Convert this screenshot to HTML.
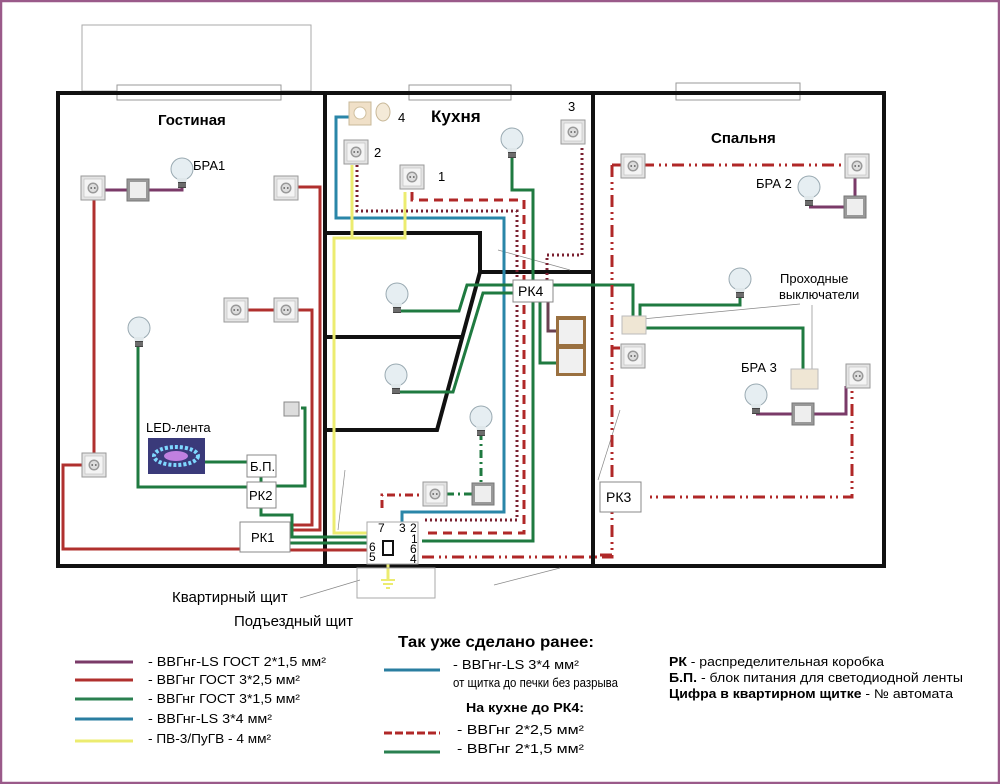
<!DOCTYPE html>
<html><head><meta charset="utf-8"><style>
html,body{margin:0;padding:0;background:#fff}
svg{display:block}
text{font-family:"Liberation Sans",sans-serif}
</style></head><body>
<svg width="1000" height="784" viewBox="0 0 1000 784" xmlns="http://www.w3.org/2000/svg">
<defs>
<g id="sock"><rect x="-12" y="-12" width="24" height="24" fill="#e4e4e4" stroke="#999" stroke-width="1"/><rect x="-9" y="-9" width="18" height="18" fill="#f4f4f4" stroke="#bbb" stroke-width="0.6"/><circle r="5.5" fill="#999"/><circle r="4" fill="#ddd"/><circle cx="-1.8" cy="0" r="0.9" fill="#555"/><circle cx="1.8" cy="0" r="0.9" fill="#555"/></g>
<g id="sw"><rect x="-11" y="-11" width="22" height="22" fill="#999" stroke="#777"/><rect x="-8" y="-8" width="16" height="16" fill="#eee"/></g>
<g id="bulb"><circle cx="0" cy="-19" r="11" fill="#e6eef2" stroke="#9aaab2" stroke-width="1"/><path d="M-5,-10 L-4,-5 L4,-5 L5,-10Z" fill="#dfe7ea"/><rect x="-4" y="-6" width="8" height="6" fill="#444"/><line x1="-4" y1="-4" x2="4" y2="-4" stroke="#aaa" stroke-width="0.8"/><line x1="-4" y1="-2" x2="4" y2="-2" stroke="#aaa" stroke-width="0.8"/></g>
</defs>
<rect x="1" y="1" width="998" height="782" fill="#fff" stroke="#9a5a8a" stroke-width="2.5"/>
<rect x="82" y="25" width="229" height="66" fill="none" stroke="#aaa"/>
<rect x="117" y="85" width="164" height="15" fill="#fff" stroke="#999"/>
<rect x="409" y="85" width="102" height="15" fill="#fff" stroke="#999"/>
<rect x="676" y="83" width="124" height="17" fill="#fff" stroke="#999"/>
<rect x="58" y="93" width="826" height="473" fill="none" stroke="#111" stroke-width="4"/>
<line x1="325" y1="93" x2="325" y2="566" stroke="#111" stroke-width="4"/>
<line x1="593" y1="93" x2="593" y2="566" stroke="#111" stroke-width="4"/>
<polyline points="325,233 480,233 480,272 593,272" fill="none" stroke="#111" stroke-width="4"/>
<polyline points="480,272 437,430 325,430" fill="none" stroke="#111" stroke-width="4"/>
<line x1="325" y1="337" x2="462" y2="337" stroke="#111" stroke-width="4"/>
<g stroke="#888" stroke-width="0.7" fill="none">
<line x1="498" y1="250" x2="570" y2="270"/><line x1="345" y1="470" x2="338" y2="530"/>
<line x1="620" y1="410" x2="598" y2="480"/><line x1="642" y1="319" x2="800" y2="304"/><line x1="812" y1="305" x2="812" y2="372"/>
<line x1="300" y1="598" x2="360" y2="580"/><line x1="494" y1="585" x2="560" y2="568"/>
</g>
<g fill="none" stroke-width="3">
<polyline points="104,190 127,190" stroke="#7a3a68"/><polyline points="149,190 182,190 182,186" stroke="#7a3a68"/>
<polyline points="94,200 94,455" stroke="#b0302e"/>
<polyline points="82,465 63,465 63,549 240,549" stroke="#b0302e"/>
<polyline points="298,187 320,187 320,530 290,530" stroke="#b0302e"/>
<polyline points="248,310 274,310" stroke="#b0302e"/>
<polyline points="298,310 312,310 312,525 290,525" stroke="#b0302e"/>
<polyline points="290,550 370,550" stroke="#b0302e"/>
<polyline points="290,543 370,543" stroke="#1f7a40"/>
<polyline points="138,346 138,487 247,487" stroke="#1f7a40"/>
<polyline points="205,462 247,462" stroke="#1f7a40"/>
<polyline points="261,477 261,482" stroke="#1f7a40"/>
<polyline points="301,408 305,408 305,486 276,486" stroke="#1f7a40"/>
<polyline points="261,508 261,515 292,515 292,537 370,537" stroke="#1f7a40"/>
</g>
<use href="#sock" x="93" y="188"/><use href="#sw" x="138" y="190"/><use href="#bulb" x="182" y="188"/>
<use href="#sock" x="286" y="188"/><use href="#sock" x="236" y="310"/><use href="#sock" x="286" y="310"/>
<use href="#bulb" x="139" y="347"/><use href="#sock" x="94" y="465"/>
<rect x="284" y="402" width="15" height="14" fill="#ddd" stroke="#888"/>
<rect x="148" y="438" width="57" height="36" fill="#3a3a7a"/><ellipse cx="176" cy="456" rx="22" ry="9" fill="none" stroke="#7fd8ff" stroke-width="4" stroke-dasharray="3 2"/><ellipse cx="176" cy="456" rx="12" ry="5" fill="#c080e0"/>
<rect x="247" y="455" width="29" height="22" fill="#fff" stroke="#888"/><text x="250" y="471" font-size="13">Б.П.</text>
<rect x="247" y="482" width="29" height="26" fill="#fff" stroke="#888"/><text x="249" y="500" font-size="13">РК2</text>
<rect x="240" y="522" width="50" height="30" fill="#fff" stroke="#888"/><text x="251" y="542" font-size="13">РК1</text>
<text x="158" y="125" font-size="15" font-weight="bold">Гостиная</text>
<text x="193" y="170" font-size="13">БРА1</text>
<text x="146" y="432" font-size="13">LED-лента</text>
<g fill="none" stroke-width="3">
<polyline points="349,117 336,117 336,218 504,218 504,512 402,512 402,522" stroke="#2a86a8"/>
<polyline points="352,165 352,238 334,238 334,533 380,533 380,545" stroke="#ecec70"/>
<polyline points="405,192 405,238 350,238" stroke="#ecec70"/>
<polyline points="388,555 388,580" stroke="#ecec70"/>
<polyline points="357,165 357,211 517,211 517,520 422,520" stroke="#7a2030" stroke-dasharray="2 3"/>
<polyline points="582,148 582,255 547,255 547,280" stroke="#7a2030" stroke-dasharray="2 3"/>
<polyline points="412,192 412,200 524,200 524,533 422,533" stroke="#b02828" stroke-dasharray="9 6"/>
<polyline points="422,557 612,557 612,165 625,165" stroke="#b02828" stroke-dasharray="12 5 2 4 2 5"/>
<polyline points="382,508 382,495 425,495" stroke="#b02828" stroke-dasharray="8 4 2 4"/>
<polyline points="446,494 472,494" stroke="#1f7a40" stroke-dasharray="8 4 2 4"/>
<polyline points="481,432 481,485" stroke="#1f7a40" stroke-dasharray="8 4 2 4"/>
<polyline points="512,147 512,190 533,190 533,280" stroke="#1f7a40"/>
<polyline points="398,311 459,311 467,285 513,285" stroke="#1f7a40"/>
<polyline points="396,392 453,392 483,293 513,293" stroke="#1f7a40"/>
<polyline points="533,302 533,541 422,541" stroke="#1f7a40"/>
<polyline points="553,285 633,285 633,318" stroke="#1f7a40"/>
<polyline points="540,302 540,363 556,363" stroke="#1f7a40"/>
<polyline points="548,302 548,331 556,331" stroke="#6a4050"/>
</g>
<rect x="349" y="102" width="22" height="23" fill="#f0e0c8" stroke="#c8b898"/><circle cx="360" cy="113" r="6" fill="#fff" stroke="#d0c0a0"/>
<ellipse cx="383" cy="112" rx="7" ry="9" fill="#f4ead8" stroke="#c8b898"/>
<text x="398" y="122" font-size="13">4</text>
<use href="#sock" x="356" y="152"/><text x="374" y="157" font-size="13">2</text>
<use href="#sock" x="412" y="177"/><text x="438" y="181" font-size="13">1</text>
<use href="#sock" x="573" y="132"/><text x="568" y="111" font-size="13">3</text>
<use href="#bulb" x="512" y="158"/>
<text x="431" y="122" font-size="17" font-weight="bold">Кухня</text>
<use href="#bulb" x="397" y="313"/><use href="#bulb" x="396" y="394"/><use href="#bulb" x="481" y="436"/>
<use href="#sock" x="435" y="494"/><use href="#sw" x="483" y="494"/>
<rect x="513" y="280" width="40" height="22" fill="#fff" stroke="#888"/><text x="518" y="296" font-size="14">РК4</text>
<rect x="556" y="316" width="30" height="60" fill="#9a7040"/><rect x="559" y="320" width="24" height="24" fill="#f0f0f0"/><rect x="559" y="349" width="24" height="24" fill="#f0f0f0"/>
<rect x="367" y="522" width="51" height="42" fill="#fff" stroke="#aaa"/>
<rect x="383" y="541" width="10" height="14" fill="#fff" stroke="#111" stroke-width="2"/>
<g font-size="12"><text x="378" y="532">7</text><text x="399" y="532">3</text><text x="410" y="532">2</text><text x="411" y="543">1</text><text x="410" y="553">6</text><text x="410" y="563">4</text><text x="369" y="551">6</text><text x="369" y="561">5</text></g>
<rect x="357" y="568" width="78" height="30" fill="none" stroke="#aaa"/>
<path d="M381,580 L395,580 M383,584 L393,584 M386,588 L390,588" stroke="#ecec70" stroke-width="2"/>
<text x="172" y="602" font-size="15">Квартирный щит</text>
<text x="234" y="626" font-size="15">Подъездный щит</text>
<g fill="none" stroke-width="3">
<polyline points="612,165 850,165" stroke="#b02828" stroke-dasharray="12 5 2 4 2 5"/>
<polyline points="612,165 612,555 598,555" stroke="#b02828" stroke-dasharray="12 5 2 4 2 5"/>
<polyline points="650,497 852,497 852,380" stroke="#b02828" stroke-dasharray="2 4 2 5 12 5"/>
<polyline points="613,348 620,348" stroke="#b02828"/>
<polyline points="855,175 855,207" stroke="#7a3a68"/><polyline points="809,207 844,207" stroke="#7a3a68"/>
<polyline points="756,414 792,414" stroke="#7a3a68"/><polyline points="814,414 846,414 846,386" stroke="#7a3a68"/>
<polyline points="640,320 640,305 740,305 740,298" stroke="#1f7a40"/>
<polyline points="645,328 803,328 803,372" stroke="#1f7a40"/>
</g>
<use href="#sock" x="633" y="166"/><use href="#sock" x="857" y="166"/>
<use href="#bulb" x="809" y="206"/><use href="#sw" x="855" y="207"/>
<use href="#bulb" x="740" y="298"/>
<rect x="622" y="316" width="24" height="18" fill="#efe6d4" stroke="#bbb"/>
<use href="#sock" x="633" y="356"/>
<rect x="791" y="369" width="27" height="20" fill="#efe6d4" stroke="#bbb"/>
<use href="#sock" x="858" y="376"/>
<use href="#bulb" x="756" y="414"/><use href="#sw" x="803" y="414"/>
<rect x="600" y="482" width="41" height="30" fill="#fff" stroke="#888"/><text x="606" y="502" font-size="14">РК3</text>
<text x="711" y="143" font-size="15" font-weight="bold">Спальня</text>
<text x="756" y="188" font-size="13">БРА 2</text>
<text x="780" y="283" font-size="13">Проходные</text>
<text x="779" y="299" font-size="13">выключатели</text>
<text x="741" y="372" font-size="13">БРА 3</text>
<g stroke-width="3">
<line x1="75" y1="662" x2="133" y2="662" stroke="#7a3a68"/>
<line x1="75" y1="680" x2="133" y2="680" stroke="#b0302e"/>
<line x1="75" y1="699" x2="133" y2="699" stroke="#2a8050"/>
<line x1="75" y1="719" x2="133" y2="719" stroke="#2a7ea0"/>
<line x1="75" y1="741" x2="133" y2="741" stroke="#ecec70"/>
<line x1="384" y1="670" x2="440" y2="670" stroke="#2a7ea0"/>
<line x1="384" y1="733" x2="440" y2="733" stroke="#b02828" stroke-dasharray="8 3"/>
<line x1="384" y1="752" x2="440" y2="752" stroke="#2a8050"/>
</g>
<g font-size="12.5">
<text x="148" y="666" textLength="178" lengthAdjust="spacingAndGlyphs">- ВВГнг-LS ГОСТ 2*1,5 мм²</text>
<text x="148" y="684" textLength="152" lengthAdjust="spacingAndGlyphs">- ВВГнг ГОСТ 3*2,5 мм²</text>
<text x="148" y="703" textLength="152" lengthAdjust="spacingAndGlyphs">- ВВГнг ГОСТ 3*1,5 мм²</text>
<text x="148" y="723" textLength="124" lengthAdjust="spacingAndGlyphs">- ВВГнг-LS  3*4 мм²</text>
<text x="148" y="743" textLength="123" lengthAdjust="spacingAndGlyphs">- ПВ-3/ПуГВ - 4 мм²</text>
<text x="453" y="669" textLength="126" lengthAdjust="spacingAndGlyphs">- ВВГнг-LS  3*4 мм²</text>
<text x="453" y="687" textLength="165" lengthAdjust="spacingAndGlyphs">от щитка до печки без разрыва</text>
<text x="457" y="734" textLength="127" lengthAdjust="spacingAndGlyphs">- ВВГнг 2*2,5 мм²</text>
<text x="457" y="753" textLength="127" lengthAdjust="spacingAndGlyphs">- ВВГнг 2*1,5 мм²</text>
<text x="669" y="666" textLength="215" lengthAdjust="spacingAndGlyphs"><tspan font-weight="bold">РК</tspan> - распределительная коробка</text>
<text x="669" y="682" textLength="294" lengthAdjust="spacingAndGlyphs"><tspan font-weight="bold">Б.П.</tspan> - блок питания для светодиодной ленты</text>
<text x="669" y="698" textLength="284" lengthAdjust="spacingAndGlyphs"><tspan font-weight="bold">Цифра в квартирном щитке</tspan> - № автомата</text>
</g>
<text x="398" y="647" font-size="16" font-weight="bold" textLength="196" lengthAdjust="spacingAndGlyphs">Так уже сделано ранее:</text>
<text x="466" y="712" font-size="13" font-weight="bold" textLength="118" lengthAdjust="spacingAndGlyphs">На кухне до РК4:</text>
</svg>
</body></html>
